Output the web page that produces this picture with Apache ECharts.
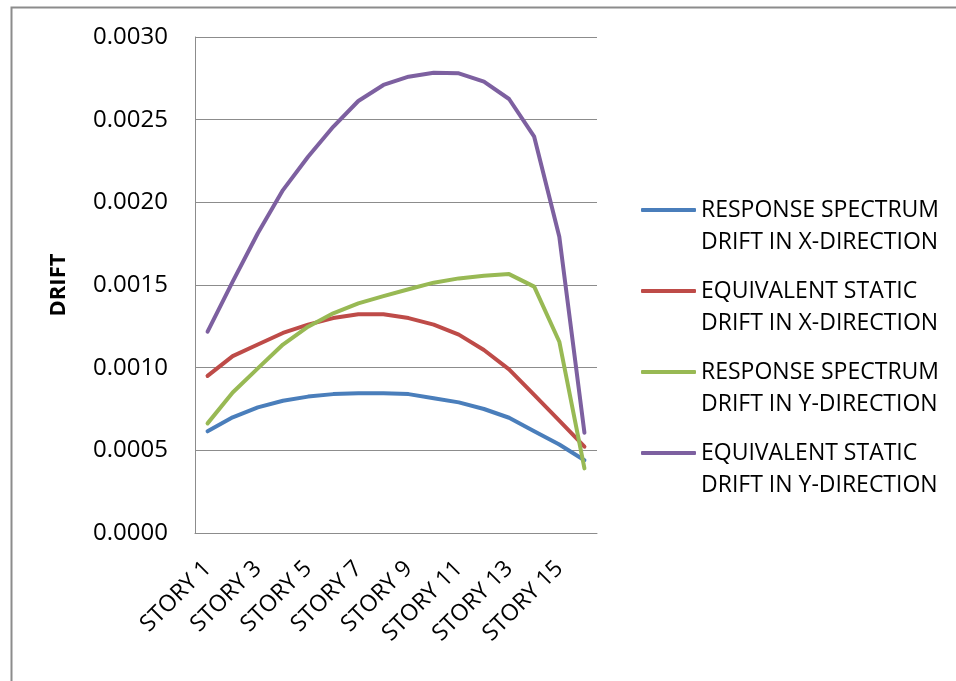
<!DOCTYPE html>
<html>
<head>
<meta charset="utf-8">
<title>DRIFT</title>
<script src="https://cdn.jsdelivr.net/npm/echarts@6/dist/echarts.min.js"></script>
<style>
  html, body { margin: 0; padding: 0; background: #ffffff; }
  #chart { width: 956px; height: 681px; }
</style>
</head>
<body>
<div id="chart"></div>
<script>
// Storey labels along the category axis
const stories = ['STORY 1', 'STORY 2', 'STORY 3', 'STORY 4', 'STORY 5', 'STORY 6', 'STORY 7', 'STORY 8',
  'STORY 9', 'STORY 10', 'STORY 11', 'STORY 12', 'STORY 13', 'STORY 14', 'STORY 15', 'STORY 16'];

// Inter-storey drift per storey
const rsDriftX = [0.000615, 0.000700, 0.000760, 0.000800, 0.000825, 0.000840, 0.000845, 0.000845,
  0.000840, 0.000815, 0.000790, 0.000750, 0.000697, 0.000615, 0.000535, 0.000440];
const esDriftX = [0.000950, 0.001070, 0.001140, 0.001210, 0.001260, 0.001300, 0.001323, 0.001323,
  0.001300, 0.001260, 0.001200, 0.001107, 0.000990, 0.000835, 0.000680, 0.000522];
const rsDriftY = [0.000663, 0.000850, 0.000996, 0.001140, 0.001248, 0.001329, 0.001389, 0.001433,
  0.001474, 0.001514, 0.001540, 0.001556, 0.001566, 0.001490, 0.001157, 0.000391];
const esDriftY = [0.001218, 0.001520, 0.001813, 0.002074, 0.002276, 0.002457, 0.002613, 0.002710,
  0.002760, 0.002784, 0.002780, 0.002730, 0.002625, 0.002397, 0.001792, 0.000607];

const seriesNames = [
  'RESPONSE SPECTRUM\nDRIFT IN X-DIRECTION',
  'EQUIVALENT STATIC\nDRIFT IN X-DIRECTION',
  'RESPONSE SPECTRUM\nDRIFT IN Y-DIRECTION',
  'EQUIVALENT STATIC\nDRIFT IN Y-DIRECTION'
];
const seriesColors = ['#4a7ebb', '#be4b48', '#98b954', '#7d60a0'];
const seriesData = [rsDriftX, esDriftX, rsDriftY, esDriftY];

// Value axis ticks
const yMin = 0;
const yMax = 0.003;
const yStep = 0.0005;

const FONT = '"Open Sans", "Noto Sans", sans-serif';

const chart = echarts.init(document.getElementById('chart'), null, { renderer: 'canvas' });

chart.setOption({
  animation: false,
  backgroundColor: '#ffffff',
  graphic: [{
    type: 'rect',
    left: 9,
    top: 5,
    shape: { width: 1000, height: 1000 },
    style: { fill: 'none', stroke: '#8c8c8c', lineWidth: 2 },
    silent: true
  }],
  grid: { left: 195, top: 37, right: 359, bottom: 148, containLabel: false },
  legend: {
    orient: 'vertical',
    left: 636,
    top: 157,
    itemWidth: 55,
    itemHeight: 4,
    itemGap: -15,
    icon: 'roundRect',
    selectedMode: false,
    // a blank leading line keeps the swatch level with the first text line
    formatter: name => ' \n' + name,
    textStyle: { fontFamily: FONT, fontSize: 23, lineHeight: 32, color: '#000000' },
    data: seriesNames
  },
  xAxis: {
    type: 'category',
    data: stories,
    boundaryGap: true,
    axisLine: { show: true, lineStyle: { color: '#8c8c8c', width: 1 } },
    axisTick: { show: false },
    axisLabel: {
      interval: 1,
      rotate: 45,
      margin: 32,
      fontFamily: FONT,
      fontSize: 23,
      color: '#000000'
    },
    splitLine: { show: false }
  },
  yAxis: {
    type: 'value',
    min: yMin,
    max: yMax,
    interval: yStep,
    name: 'DRIFT',
    nameLocation: 'middle',
    nameRotate: 90,
    nameGap: 125,
    nameTextStyle: { fontFamily: FONT, fontSize: 22, fontWeight: 'bold', color: '#000000' },
    axisLine: { show: true, lineStyle: { color: '#8c8c8c', width: 1 } },
    axisTick: { show: false },
    axisLabel: {
      margin: 27,
      fontFamily: FONT,
      fontSize: 24,
      color: '#000000',
      formatter: v => v.toFixed(4)
    },
    splitLine: { show: true, lineStyle: { color: '#8c8c8c', width: 1 } }
  },
  series: seriesNames.map((name, i) => ({
    name: name,
    type: 'line',
    data: seriesData[i],
    showSymbol: false,
    symbol: 'none',
    smooth: false,
    color: seriesColors[i],
    lineStyle: { width: 4, color: seriesColors[i], cap: 'round', join: 'round' }
  }))
});
</script>
</body>
</html>
